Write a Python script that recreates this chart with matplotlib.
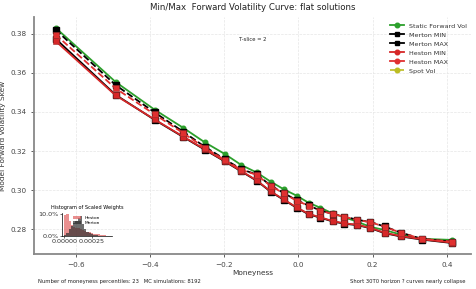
import numpy as np
import matplotlib
matplotlib.use("Agg")
import matplotlib.pyplot as plt
from matplotlib.lines import Line2D

# moneyness grid
moneyness = [-0.655, -0.493, -0.388, -0.310, -0.253, -0.199, -0.154, -0.113, -0.075,
             -0.040, -0.005, 0.027, 0.059, 0.092, 0.124, 0.159, 0.194, 0.232, 0.275,
             0.332, 0.415]

static_fwd = [0.3832, 0.3554, 0.3412, 0.3318, 0.3245, 0.3185, 0.3128, 0.3090, 0.3043,
              0.3004, 0.2971, 0.2935, 0.2909, 0.2880, 0.2860, 0.2837, 0.2811, 0.2795,
              0.2772, 0.2750, 0.2744]
merton_max = [0.3822, 0.3538, 0.3398, 0.3298, 0.3222, 0.3158, 0.3106, 0.3080, 0.3023,
              0.2985, 0.2947, 0.2921, 0.2895, 0.2878, 0.2864, 0.2847, 0.2836, 0.2813,
              0.2782, 0.2750, 0.2735]
heston_max = [0.3797, 0.3521, 0.3388, 0.3291, 0.3217, 0.3154, 0.3103, 0.3078, 0.3021,
              0.2983, 0.2945, 0.2920, 0.2894, 0.2877, 0.2863, 0.2846, 0.2835, 0.2812,
              0.2781, 0.2750, 0.2735]
merton_min = [0.3776, 0.3488, 0.3360, 0.3271, 0.3207, 0.3147, 0.3095, 0.3048, 0.2991,
              0.2950, 0.2909, 0.2876, 0.2858, 0.2839, 0.2827, 0.2820, 0.2804, 0.2779,
              0.2762, 0.2746, 0.2728]
heston_min = [0.3764, 0.3485, 0.3362, 0.3273, 0.3209, 0.3149, 0.3097, 0.3050, 0.2993,
              0.2952, 0.2911, 0.2878, 0.2860, 0.2841, 0.2829, 0.2822, 0.2806, 0.2781,
              0.2764, 0.2748, 0.2730]
spot_vol = []

# inset histogram of scaled weights
bin_edges = [0.0, 0.00002, 0.00004, 0.00006, 0.00008, 0.00010, 0.00012, 0.00014,
             0.00016, 0.00018, 0.00020, 0.00022, 0.00024, 0.00026, 0.00028, 0.00030,
             0.00032, 0.00034, 0.00036, 0.00038, 0.00040]
heston_hist = [0.095, 0.100, 0.070, 0.050, 0.042, 0.038, 0.034, 0.030, 0.026, 0.022,
               0.019, 0.016, 0.013, 0.011, 0.009, 0.007, 0.005, 0.004, 0.003, 0.002]
merton_hist = [0.005, 0.015, 0.030, 0.045, 0.058, 0.070, 0.080, 0.090, 0.055, 0.032,
               0.020, 0.012, 0.008, 0.005, 0.003, 0.002, 0.001, 0.0005, 0.0, 0.0]

fig = plt.figure(figsize=(4.76, 2.89), dpi=100)
ax = fig.add_axes([34 / 476, 35 / 289, 437 / 476, 237 / 289])

ax.plot(moneyness, static_fwd, color="#2ca02c", marker="o", ms=3.3, lw=1.3, zorder=3)
ax.plot(moneyness, merton_min, color="black", marker="s", ms=4, lw=1.3, zorder=4)
ax.plot(moneyness, merton_max, color="black", marker="s", ms=4, lw=1.3, ls="--", zorder=4)
ax.plot(moneyness, heston_min, color="#d62728", marker="s", ms=4, lw=1.3,
        mec="#9a2a2a", mew=0.4, zorder=5)
ax.plot(moneyness, heston_max, color="#e03030", marker="s", ms=4, lw=1.3, ls="--",
        mec="#9a2a2a", mew=0.4, zorder=5)
ax.plot(spot_vol, spot_vol, color="#bcbd22", marker="o", ms=3, lw=1.2, ls="--")

ax.set_xlim(-0.713, 0.465)
ax.set_ylim(0.2672, 0.3887)
ax.set_xticks([-0.6, -0.4, -0.2, 0.0, 0.2, 0.4])
ax.set_yticks([0.28, 0.30, 0.32, 0.34, 0.36, 0.38])
ax.grid(True, ls="--", lw=0.5, color="#e6e6e6")
for s in ["top", "right"]:
    ax.spines[s].set_visible(False)
for s in ["left", "bottom"]:
    ax.spines[s].set_color("#888888")
    ax.spines[s].set_linewidth(1.3)
ax.tick_params(labelsize=5.2, colors="#444444", length=2, width=0.6)

ax.set_title("Min/Max  Forward Volatility Curve: flat solutions", fontsize=6.2,
             pad=5, color="#222222")
ax.set_xlabel("Moneyness", fontsize=5.3, color="#333333", labelpad=2)
ax.set_ylabel("Model Forward Volatility Skew", fontsize=5.3, color="#333333", labelpad=3)
ax.text(0.5, 0.905, "T-slice = 2", transform=ax.transAxes, fontsize=3.8,
        ha="center", va="center", color="#222222")

handles = [
    Line2D([], [], color="#2ca02c", marker="o", ms=3.3, lw=1.3),
    Line2D([], [], color="black", marker="s", ms=3.5, lw=1.3),
    Line2D([], [], color="black", marker="s", ms=3.5, lw=1.3),
    Line2D([], [], color="#d62728", marker="o", ms=3.3, lw=1.3),
    Line2D([], [], color="#e03030", marker="o", ms=3.3, lw=1.3),
    Line2D([], [], color="#bcbd22", marker="o", ms=3.3, lw=1.2, ls="--"),
]
labels = ["Static Forward Vol", "Merton MIN", "Merton MAX", "Heston MIN",
          "Heston MAX", "Spot Vol"]
ax.legend(handles, labels, loc="upper right", fontsize=4.6, frameon=False,
          handlelength=2.2, labelspacing=0.55, bbox_to_anchor=(1.0, 0.99),
          borderaxespad=0.2, labelcolor="#333333")

fig.text(38 / 476, 1 - 281 / 289, "Number of moneyness percentiles: 23   MC simulations: 8192",
         fontsize=3.8, va="center", ha="left", color="#222222")
fig.text(466 / 476, 1 - 281 / 289, "Short 30T0 horizon ? curves nearly collapse",
         fontsize=3.8, va="center", ha="right", color="#222222")

# inset
ins = fig.add_axes([62 / 476, 1 - 236 / 289, 50 / 476, 23 / 289])
centers = [(a + b) / 2 for a, b in zip(bin_edges[:-1], bin_edges[1:])]
width = bin_edges[1] - bin_edges[0]
ins.bar(centers, heston_hist, width=width, color="#e06060", alpha=0.7, label="Heston")
ins.bar(centers, merton_hist, width=width, color="#303030", alpha=0.7, label="Merton")
ins.set_xlim(-0.00002, 0.00043)
ins.set_ylim(0, 0.104)
ins.set_xticks([0.0, 0.00025])
ins.set_xticklabels(["0.00000", "0.00025"])
ins.set_yticks([0.0, 0.10])
ins.set_yticklabels(["0.0%", "10.0%"])
ins.tick_params(labelsize=4.6, length=1.5, width=0.5, pad=1, colors="#333333")
ins.patch.set_alpha(0)
for s in ["top", "right"]:
    ins.spines[s].set_visible(False)
ins.spines["left"].set_linewidth(0.5)
ins.spines["bottom"].set_linewidth(0.5)
ins.set_title("Histogram of Scaled Weights", fontsize=3.6, pad=3)
ins.legend(fontsize=3.2, frameon=False, loc="upper right", handlelength=1.8,
           borderaxespad=0.1, labelspacing=0.2, bbox_to_anchor=(0.8, 0.95))

fig.savefig("out.png", dpi=100)
